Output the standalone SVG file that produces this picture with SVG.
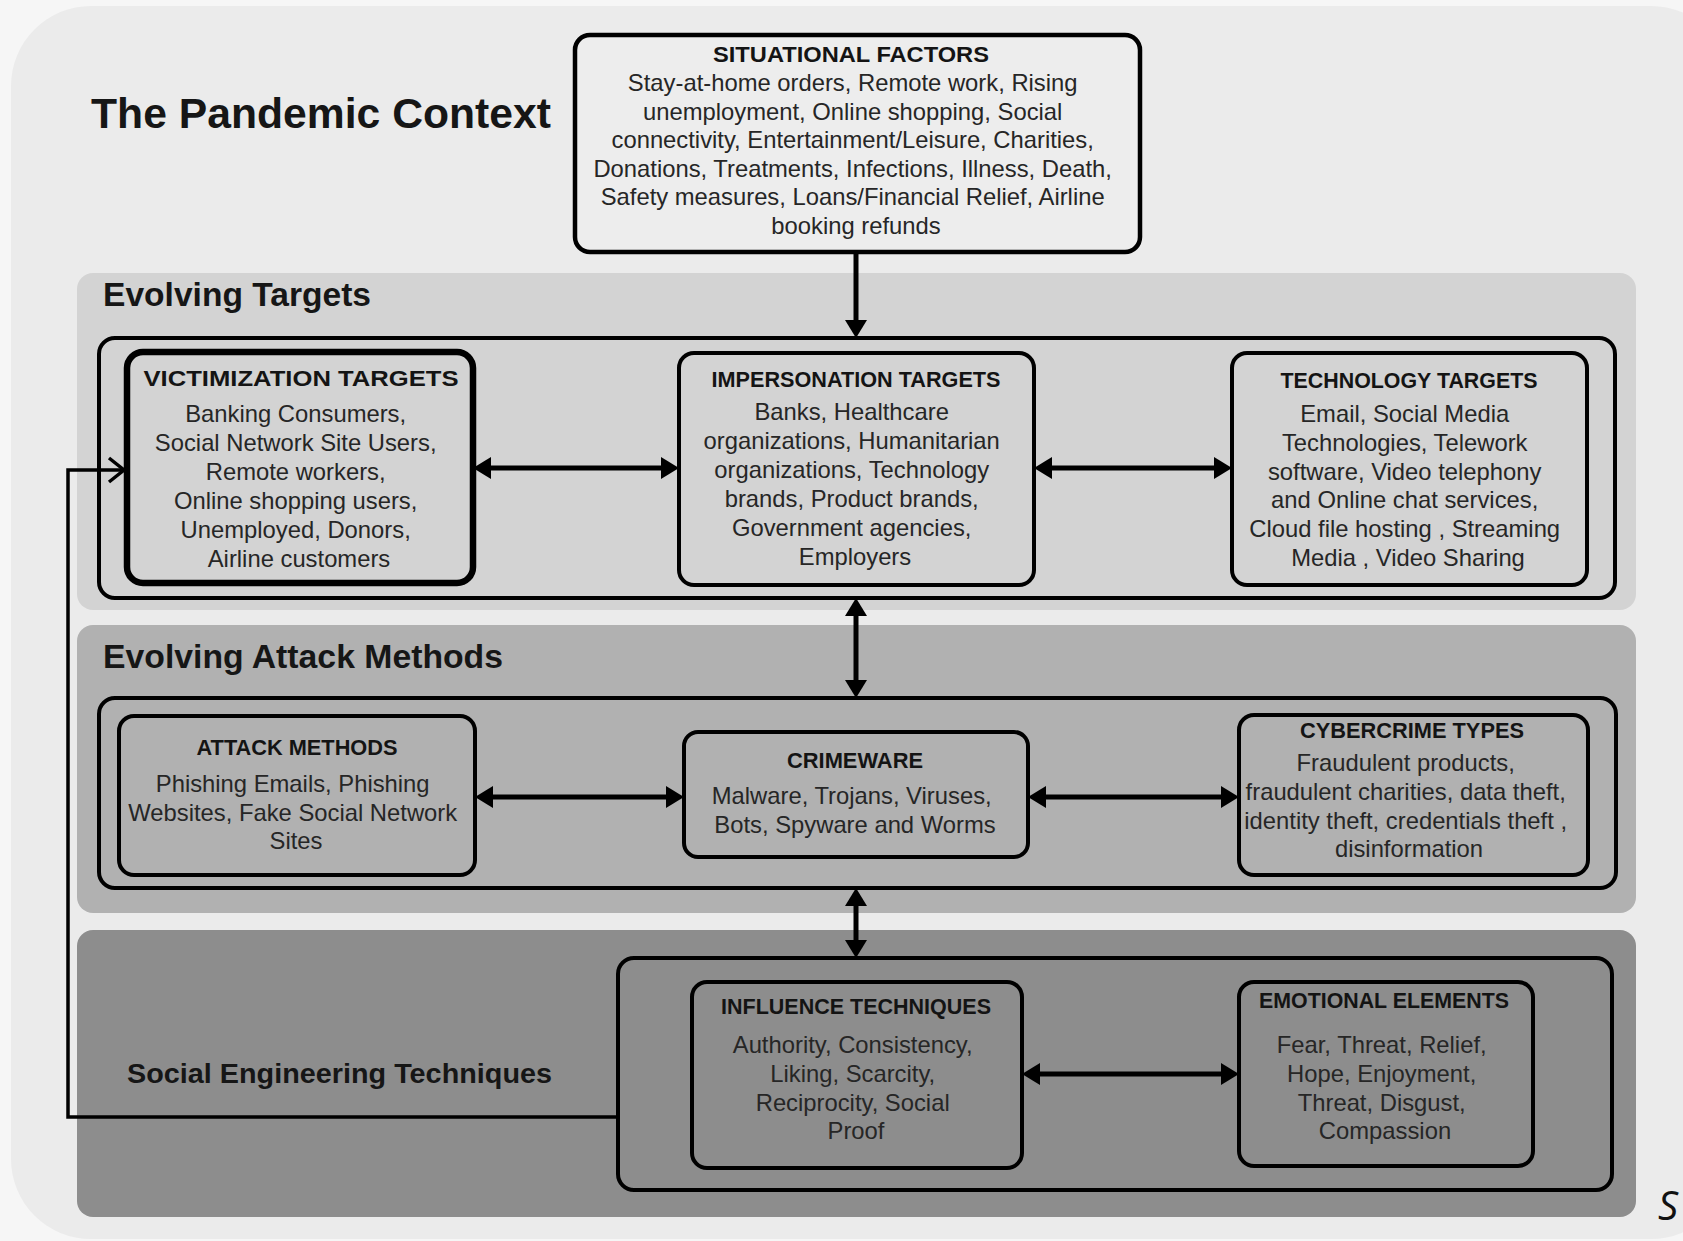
<svg xmlns="http://www.w3.org/2000/svg" width="1683" height="1241" viewBox="0 0 1683 1241">
<style>
.bg{fill:#ebebeb}
.band1{fill:#d3d3d3}
.band2{fill:#b1b1b1}
.band3{fill:#8d8d8d}
.frame{fill:none;stroke:#000;stroke-width:4}
.box{fill:none;stroke:#000;stroke-width:4}
.thick{stroke-width:6.5}
.head{font-family:"Liberation Sans",Arial,sans-serif;font-weight:bold;fill:#161616}
.title{font-family:"Liberation Sans",Arial,sans-serif;font-weight:bold;font-size:22px;fill:#141414;text-anchor:middle}
.body{font-family:"Liberation Sans",Arial,sans-serif;font-size:23.8px;fill:#262626;text-anchor:middle}
.conn{fill:none;stroke:#000;stroke-width:5}
.fb{fill:none;stroke:#000;stroke-width:3.5}
</style>
<defs>
<marker id="ah" markerUnits="userSpaceOnUse" markerWidth="18" markerHeight="22" viewBox="0 0 18 22" refX="10" refY="11" orient="auto-start-reverse">
<path d="M0,0 L18,11 L0,22 z" fill="#000"/>
</marker>
<marker id="oh" markerUnits="userSpaceOnUse" markerWidth="20" markerHeight="28" viewBox="0 0 20 28" refX="17" refY="14" orient="auto">
<path d="M2,2 L17,14 L2,26" fill="none" stroke="#000" stroke-width="3.5"/>
</marker>
</defs>

<rect x="0" y="0" width="1683" height="1241" fill="#f6f6f6"/>
<rect class="bg" x="11" y="6" width="1720" height="1233" rx="80"/>

<g id="bands">
<rect class="band1" x="77" y="273" width="1559" height="337" rx="16"/>
<rect class="band2" x="77" y="625" width="1559" height="288" rx="16"/>
<rect class="band3" x="77" y="930" width="1559" height="287" rx="16"/>
<rect class="frame" x="99" y="338" width="1516" height="260" rx="16"/>
<rect class="frame" x="99" y="698" width="1517" height="190" rx="16"/>
<rect class="frame" x="618" y="958" width="994" height="232" rx="16"/>
</g>

<g id="headings">
<text class="head" x="91" y="128" font-size="42" textLength="460" lengthAdjust="spacingAndGlyphs">The Pandemic Context</text>
<text class="head" x="103" y="306" font-size="33" textLength="268" lengthAdjust="spacingAndGlyphs">Evolving Targets</text>
<text class="head" x="103" y="668" font-size="33" textLength="400" lengthAdjust="spacingAndGlyphs">Evolving Attack Methods</text>
<text class="head" x="127" y="1083" font-size="28.5" textLength="425" lengthAdjust="spacingAndGlyphs">Social Engineering Techniques</text>
</g>

<g id="situational-factors">
<rect class="box" x="575" y="35" width="565" height="217" rx="15" fill="#ededed" style="fill:#ededed;stroke-width:4.5"/>
<text class="title" x="851" y="62" textLength="276" lengthAdjust="spacingAndGlyphs">SITUATIONAL FACTORS</text>
<text class="body">
<tspan x="856" y="91">Stay-at-home orders, Remote work, Rising</tspan>
<tspan x="856" y="119.5">unemployment, Online shopping, Social</tspan>
<tspan x="856" y="148">connectivity, Entertainment/Leisure, Charities,</tspan>
<tspan x="856" y="176.5">Donations, Treatments, Infections, Illness, Death,</tspan>
<tspan x="856" y="205">Safety measures, Loans/Financial Relief, Airline</tspan>
<tspan x="856" y="233.5">booking refunds</tspan>
</text>
</g>

<g id="victimization-targets">
<rect class="box thick" x="127" y="352" width="346" height="231" rx="16"/>
<text class="title" x="301" y="386" textLength="315" lengthAdjust="spacingAndGlyphs">VICTIMIZATION TARGETS</text>
<text class="body">
<tspan x="299" y="422">Banking Consumers,</tspan>
<tspan x="299" y="451">Social Network Site Users,</tspan>
<tspan x="299" y="480">Remote workers,</tspan>
<tspan x="299" y="509">Online shopping users,</tspan>
<tspan x="299" y="538">Unemployed, Donors,</tspan>
<tspan x="299" y="567">Airline customers</tspan>
</text>
</g>

<g id="impersonation-targets">
<rect class="box" x="679" y="353" width="355" height="232" rx="15"/>
<text class="title" x="856" y="387" textLength="289" lengthAdjust="spacingAndGlyphs">IMPERSONATION TARGETS</text>
<text class="body">
<tspan x="855" y="420">Banks, Healthcare</tspan>
<tspan x="855" y="449">organizations, Humanitarian</tspan>
<tspan x="855" y="478">organizations, Technology</tspan>
<tspan x="855" y="507">brands, Product brands,</tspan>
<tspan x="855" y="536">Government agencies,</tspan>
<tspan x="855" y="565">Employers</tspan>
</text>
</g>

<g id="technology-targets">
<rect class="box" x="1232" y="353" width="355" height="232" rx="15"/>
<text class="title" x="1409" y="388" textLength="257" lengthAdjust="spacingAndGlyphs">TECHNOLOGY TARGETS</text>
<text class="body">
<tspan x="1408" y="422">Email, Social Media</tspan>
<tspan x="1408" y="451">Technologies, Telework</tspan>
<tspan x="1408" y="480">software, Video telephony</tspan>
<tspan x="1408" y="508">and Online chat services,</tspan>
<tspan x="1408" y="537">Cloud file hosting , Streaming</tspan>
<tspan x="1408" y="566">Media , Video Sharing</tspan>
</text>
</g>

<g id="attack-methods">
<rect class="box" x="119" y="716" width="356" height="159" rx="15"/>
<text class="title" x="297" y="755" textLength="201" lengthAdjust="spacingAndGlyphs">ATTACK METHODS</text>
<text class="body">
<tspan x="296" y="792">Phishing Emails, Phishing</tspan>
<tspan x="296" y="821">Websites, Fake Social Network</tspan>
<tspan x="296" y="849">Sites</tspan>
</text>
</g>

<g id="crimeware">
<rect class="box" x="684" y="732" width="344" height="125" rx="14"/>
<text class="title" x="855" y="768" textLength="136" lengthAdjust="spacingAndGlyphs">CRIMEWARE</text>
<text class="body">
<tspan x="855" y="804">Malware, Trojans, Viruses,</tspan>
<tspan x="855" y="833">Bots, Spyware and Worms</tspan>
</text>
</g>

<g id="cybercrime-types">
<rect class="box" x="1239" y="715" width="349" height="160" rx="15"/>
<text class="title" x="1412" y="738" textLength="224" lengthAdjust="spacingAndGlyphs">CYBERCRIME TYPES</text>
<text class="body">
<tspan x="1409" y="771">Fraudulent products,</tspan>
<tspan x="1409" y="800">fraudulent charities, data theft,</tspan>
<tspan x="1409" y="829">identity theft, credentials theft ,</tspan>
<tspan x="1409" y="857">disinformation</tspan>
</text>
</g>

<g id="influence-techniques">
<rect class="box" x="692" y="982" width="330" height="186" rx="15"/>
<text class="title" x="856" y="1014" textLength="270" lengthAdjust="spacingAndGlyphs">INFLUENCE TECHNIQUES</text>
<text class="body">
<tspan x="856" y="1053">Authority, Consistency,</tspan>
<tspan x="856" y="1082">Liking, Scarcity,</tspan>
<tspan x="856" y="1111">Reciprocity, Social</tspan>
<tspan x="856" y="1139">Proof</tspan>
</text>
</g>

<g id="emotional-elements">
<rect class="box" x="1239" y="982" width="294" height="184" rx="15"/>
<text class="title" x="1384" y="1008" textLength="250" lengthAdjust="spacingAndGlyphs">EMOTIONAL ELEMENTS</text>
<text class="body">
<tspan x="1385" y="1053">Fear, Threat, Relief,</tspan>
<tspan x="1385" y="1082">Hope, Enjoyment,</tspan>
<tspan x="1385" y="1111">Threat, Disgust,</tspan>
<tspan x="1385" y="1139">Compassion</tspan>
</text>
</g>

<g id="connectors">
<line class="conn" x1="856" y1="252" x2="856" y2="330" marker-end="url(#ah)"/>
<line class="conn" x1="481" y1="468" x2="671" y2="468" marker-start="url(#ah)" marker-end="url(#ah)"/>
<line class="conn" x1="1042" y1="468" x2="1224" y2="468" marker-start="url(#ah)" marker-end="url(#ah)"/>
<line class="conn" x1="856" y1="606" x2="856" y2="690" marker-start="url(#ah)" marker-end="url(#ah)"/>
<line class="conn" x1="483" y1="797" x2="676" y2="797" marker-start="url(#ah)" marker-end="url(#ah)"/>
<line class="conn" x1="1036" y1="797" x2="1231" y2="797" marker-start="url(#ah)" marker-end="url(#ah)"/>
<line class="conn" x1="856" y1="896" x2="856" y2="950" marker-start="url(#ah)" marker-end="url(#ah)"/>
<line class="conn" x1="1030" y1="1074" x2="1231" y2="1074" marker-start="url(#ah)" marker-end="url(#ah)"/>
<polyline class="fb" points="618,1117 68,1117 68,470 124,470" marker-end="url(#oh)"/>
</g>

<text x="1658" y="1220" font-family="'Open Sans','Liberation Sans',sans-serif" font-style="italic" font-size="40" fill="#111">S</text>
</svg>
